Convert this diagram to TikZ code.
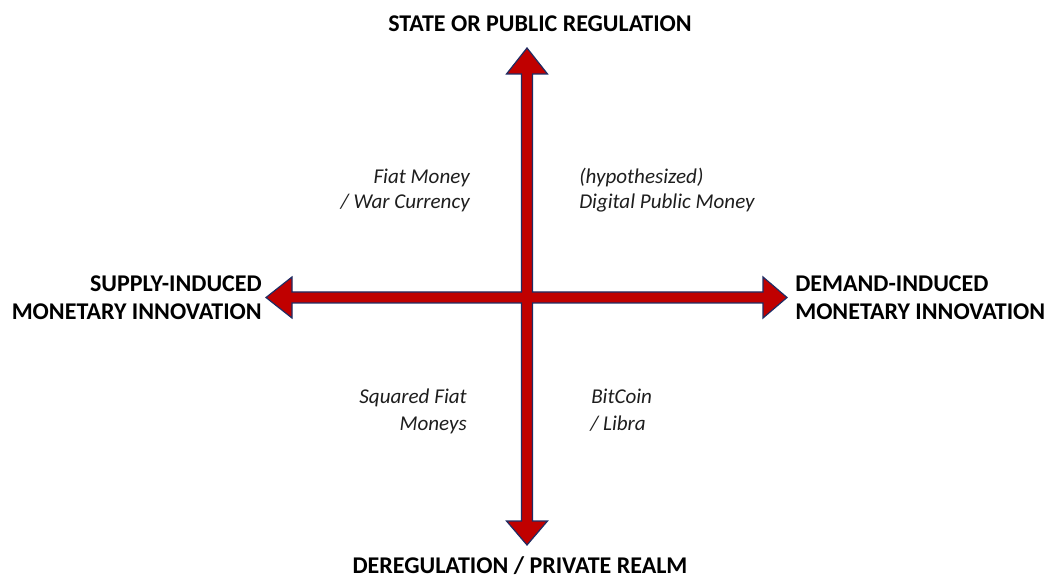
\documentclass[tikz,border=0pt]{standalone}
\usepackage{fontspec}
\setmainfont{Carlito}
\definecolor{arrowred}{RGB}{192,0,0}
\definecolor{arrowedge}{RGB}{31,45,100}
\definecolor{labelgray}{RGB}{30,30,30}
\begin{document}
\begin{tikzpicture}[x=0.75pt,y=-0.75pt,
  axislabel/.style={inner sep=0pt,font=\fontsize{18}{21}\selectfont\bfseries,text=black},
  quadlabel/.style={inner sep=0pt,font=\fontsize{15.8}{19}\selectfont\itshape,text=labelgray},
  crossarrow/.style={fill=arrowred,draw=arrowedge,line width=0.9pt,line join=miter}]
\useasboundingbox[fill=white] (0,0) rectangle (1046,577);
% the double arrow cross
\coordinate (c) at (527,297.5);
\draw[crossarrow] (527,48) -- (547.5,74) -- (532.5,74) -- (532.5,292) -- (763,292) -- (763,277)
  -- (787,297.5) -- (763,318) -- (763,303) -- (532.5,303) -- (532.5,521) -- (547.5,521)
  -- (527,545) -- (506.5,521) -- (521.5,521) -- (521.5,303) -- (292,303) -- (292,318)
  -- (266,297.5) -- (292,277) -- (292,292) -- (521.5,292) -- (521.5,74) -- (506.5,74) -- cycle;
% axis labels
\node[axislabel,anchor=base] (top) at (540,32) {STATE OR PUBLIC REGULATION};
\node[axislabel,anchor=base] (bottom) at (520,573) {DEREGULATION / PRIVATE REALM};
\node[axislabel,anchor=base east] (left1) at (262,292) {SUPPLY-INDUCED};
\node[axislabel,anchor=base east] (left2) at (262,320) {MONETARY INNOVATION};
\node[axislabel,anchor=base west] (right1) at (795,292) {DEMAND-INDUCED};
\node[axislabel,anchor=base west] (right2) at (795,320) {MONETARY INNOVATION};
% quadrant labels
\node[quadlabel,anchor=base east] (q1a) at (470,184) {Fiat Money};
\node[quadlabel,anchor=base east] (q1b) at (470,209) {/ War Currency};
\node[quadlabel,anchor=base west] (q2a) at (579,184) {(hypothesized)};
\node[quadlabel,anchor=base west] (q2b) at (579,209) {Digital Public Money};
\node[quadlabel,anchor=base east] (q3a) at (467,403) {Squared Fiat};
\node[quadlabel,anchor=base east] (q3b) at (467,430) {Moneys};
\node[quadlabel,anchor=base west] (q4a) at (591,403) {BitCoin};
\node[quadlabel,anchor=base west] (q4b) at (590,430) {/ Libra};
\end{tikzpicture}
\end{document}
